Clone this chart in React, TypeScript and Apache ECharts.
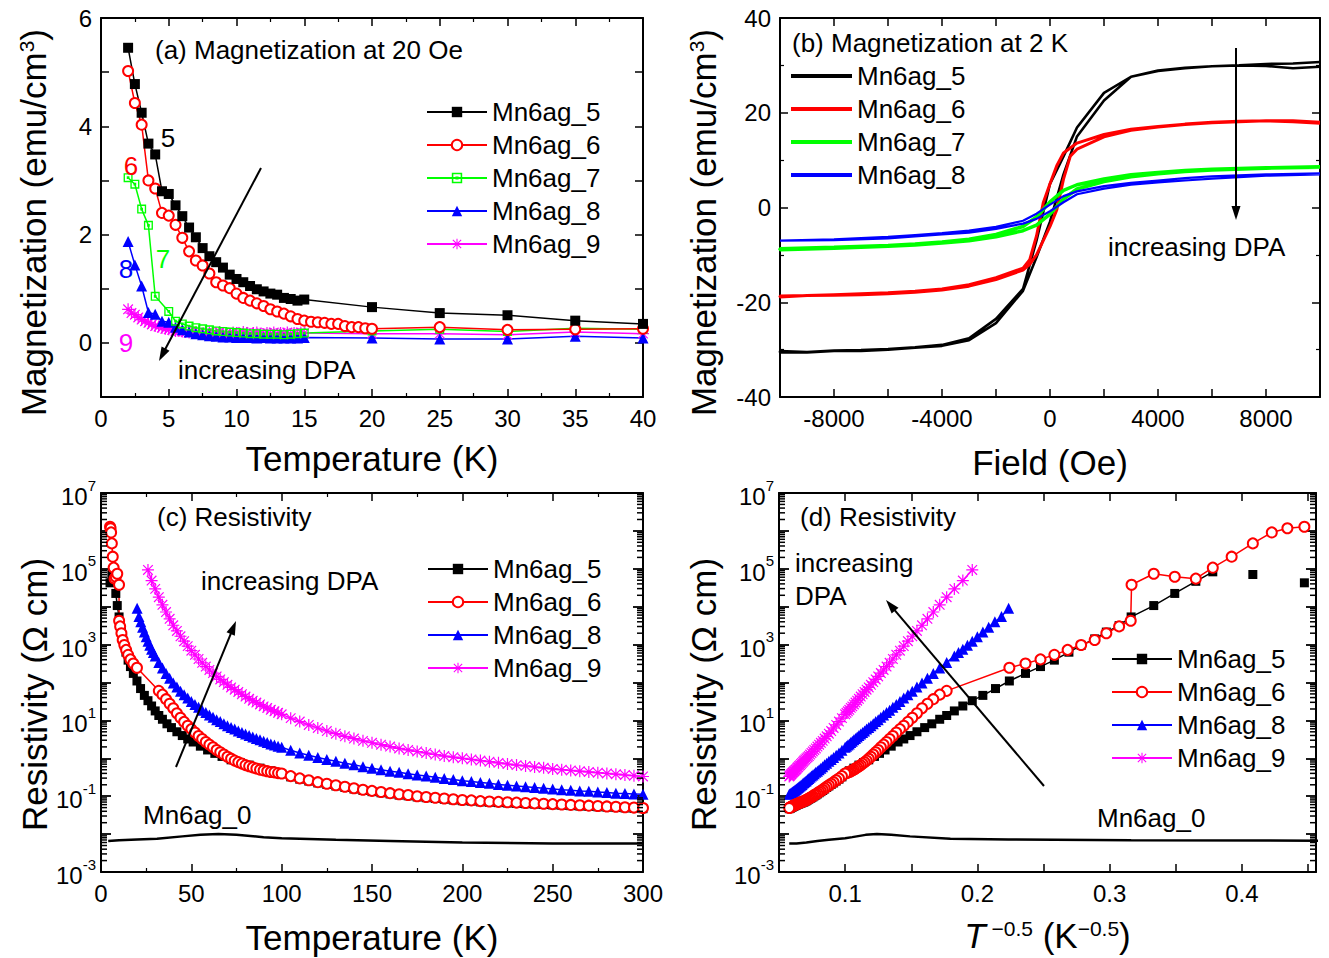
import React, { useEffect, useRef } from 'react';
import * as echarts from 'echarts';

const FONT = "'Liberation Sans', Arial, Helvetica, sans-serif";
const BLACK = '#000000';
const RED = '#ff0000';
const GREEN = '#00ff00';
const BLUE = '#0000ff';
const MAGENTA = '#ff00ff';

// ---------------- (a) Magnetization at 20 Oe vs temperature ----------------
const aT5 = [2, 2.5, 3, 3.5, 4, 4.5, 5, 5.5, 6, 6.5, 7, 7.5, 8, 8.5, 9, 9.5, 10, 10.5, 11, 11.5, 12, 12.5, 13, 13.5, 14, 14.5, 15, 20, 25, 30, 35, 40];
const aM5 = [5.45, 4.78, 4.25, 3.68, 3.48, 2.8, 2.75, 2.54, 2.34, 2.13, 1.95, 1.75, 1.6, 1.49, 1.39, 1.26, 1.18, 1.12, 1.05, 0.99, 0.95, 0.91, 0.89, 0.83, 0.81, 0.78, 0.8, 0.66, 0.55, 0.51, 0.41, 0.35];
const aT6 = [2, 2.5, 3, 3.5, 4, 4.5, 5, 5.5, 6, 6.5, 7, 7.5, 8, 8.5, 9, 9.5, 10, 10.5, 11, 11.5, 12, 12.5, 13, 13.5, 14, 14.5, 15, 15.5, 16, 16.5, 17, 17.5, 18, 18.5, 19, 19.5, 20, 25, 30, 35, 40];
const aM6 = [5.02, 4.43, 4.03, 3.0, 2.85, 2.4, 2.35, 2.18, 1.94, 1.69, 1.52, 1.43, 1.28, 1.12, 1.06, 1.01, 0.91, 0.83, 0.78, 0.73, 0.68, 0.62, 0.58, 0.54, 0.49, 0.44, 0.41, 0.39, 0.38, 0.37, 0.35, 0.35, 0.31, 0.29, 0.29, 0.27, 0.26, 0.29, 0.24, 0.25, 0.26];
const aT7 = [2, 2.5, 3, 3.5, 4, 5, 5.5, 6, 6.5, 7, 7.5, 8, 8.5, 9, 9.5, 10, 10.5, 11, 11.5, 12, 12.5, 13, 13.5, 14, 14.5, 15, 20, 25, 30, 35, 40];
const aM7 = [3.05, 2.93, 2.47, 2.17, 0.86, 0.58, 0.4, 0.35, 0.31, 0.28, 0.26, 0.24, 0.22, 0.21, 0.2, 0.19, 0.18, 0.17, 0.17, 0.16, 0.16, 0.16, 0.15, 0.16, 0.17, 0.18, 0.22, 0.25, 0.21, 0.27, 0.25];
const aT8 = [2, 2.5, 3, 3.5, 4, 4.5, 5, 5.5, 6, 6.5, 7, 7.5, 8, 8.5, 9, 9.5, 10, 10.5, 11, 11.5, 12, 12.5, 13, 13.5, 14, 14.5, 15, 20, 25, 30, 35, 40];
const aM8 = [1.87, 1.44, 1.05, 0.56, 0.53, 0.4, 0.38, 0.29, 0.24, 0.2, 0.17, 0.15, 0.13, 0.12, 0.11, 0.11, 0.1, 0.1, 0.1, 0.09, 0.1, 0.09, 0.09, 0.09, 0.09, 0.09, 0.1, 0.09, 0.07, 0.07, 0.12, 0.09];
const aT9 = [2, 2.25, 2.5, 2.75, 3, 3.25, 3.5, 3.75, 4, 4.25, 4.5, 4.75, 5, 5.25, 5.5, 5.75, 6, 6.25, 6.5, 6.75, 7, 7.25, 7.5, 7.75, 8, 8.25, 8.5, 8.75, 9, 9.25, 9.5, 9.75, 10, 10.25, 10.5, 10.75, 11, 11.25, 11.5, 11.75, 12, 12.25, 12.5, 12.75, 13, 13.25, 13.5, 13.75, 14, 14.25, 14.5, 14.75, 15, 20, 25, 30, 35, 40];
const aM9 = [0.62, 0.55, 0.52, 0.47, 0.43, 0.4, 0.37, 0.34, 0.31, 0.3, 0.28, 0.26, 0.25, 0.24, 0.22, 0.22, 0.21, 0.2, 0.19, 0.2, 0.18, 0.19, 0.17, 0.18, 0.19, 0.17, 0.18, 0.2, 0.17, 0.18, 0.16, 0.19, 0.18, 0.17, 0.2, 0.18, 0.16, 0.18, 0.19, 0.17, 0.16, 0.18, 0.17, 0.19, 0.16, 0.18, 0.17, 0.19, 0.16, 0.18, 0.17, 0.19, 0.18, 0.17, 0.17, 0.15, 0.2, 0.17];

// ---------------- (b) Magnetization at 2 K vs field (hysteresis loops) ----------------
const bH5desc = [10000, 9000, 8000, 7000, 6000, 5000, 4000, 3000, 2000, 1000, 500, 0, -500, -1000, -2000, -3000, -4000, -5000, -6000, -7000, -8000, -9000, -10000];
const bM5desc = [29.7, 29.4, 29.9, 30.0, 29.8, 29.5, 28.9, 27.6, 24.2, 16.9, 10.8, 5.0, -7.0, -17.2, -23.5, -27.6, -29.0, -29.5, -29.9, -30.1, -30.2, -30.5, -30.3];
const bH5asc = [-10000, -9000, -8000, -7000, -6000, -5000, -4000, -3000, -2000, -1000, -500, 0, 500, 1000, 2000, 3000, 4000, 5000, 6000, 7000, 8000, 9000, 10000];
const bM5asc = [-30.6, -30.6, -30.3, -30.3, -30.0, -29.6, -29.2, -28.0, -24.4, -17.6, -10.5, -3.0, 7.0, 15.0, 22.6, 27.6, 28.8, 29.4, 29.8, 30.0, 30.3, 30.4, 30.7];
const bH6desc = [10000, 9000, 8000, 7000, 6000, 5000, 4000, 3000, 2000, 1000, 500, 250, 0, -250, -500, -750, -1000, -2000, -3000, -4000, -5000, -6000, -7000, -8000, -9000, -10000];
const bM6desc = [17.8, 18.1, 18.3, 18.2, 18.0, 17.6, 17.1, 16.5, 15.4, 13.6, 11.5, 8.8, 5.0, 1.0, -6.0, -11.0, -12.8, -14.8, -16.3, -17.2, -17.7, -18.0, -18.2, -18.4, -18.6, -18.7];
const bH6asc = [-10000, -9000, -8000, -7000, -6000, -5000, -4000, -3000, -2000, -1000, -750, -500, -250, 0, 250, 500, 750, 1000, 2000, 3000, 4000, 5000, 6000, 7000, 8000, 9000, 10000];
const bM6asc = [-18.9, -18.6, -18.5, -18.4, -18.2, -17.9, -17.4, -16.6, -15.2, -13.2, -12.0, -10.0, -7.0, -4.0, -0.5, 6.0, 10.8, 12.3, 14.9, 16.3, 17.0, 17.5, 17.9, 18.1, 18.3, 18.3, 18.0];
const bHdesc = [10000, 8000, 6000, 5000, 4000, 3000, 2000, 1000, 500, 0, -500, -1000, -2000, -3000, -4000, -5000, -6000, -8000, -10000];
const bHasc = [-10000, -8000, -6000, -5000, -4000, -3000, -2000, -1000, -500, 0, 500, 1000, 2000, 3000, 4000, 5000, 6000, 8000, 10000];
const bM7desc = [8.6, 8.4, 8.1, 7.8, 7.4, 6.9, 6.0, 4.8, 3.6, 1.2, -2.0, -4.0, -5.7, -6.7, -7.3, -7.7, -8.0, -8.4, -8.7];
const bM7asc = [-8.9, -8.6, -8.2, -7.9, -7.5, -7.0, -6.2, -4.9, -3.7, -1.4, 1.8, 3.9, 5.5, 6.5, 7.1, 7.6, 7.9, 8.3, 8.5];
const bM8desc = [7.2, 7.0, 6.6, 6.2, 5.7, 5.2, 4.5, 3.4, 2.4, 0.6, -1.3, -2.8, -4.1, -4.9, -5.4, -5.8, -6.2, -6.7, -7.0];
const bM8asc = [-7.1, -6.9, -6.5, -6.1, -5.7, -5.3, -4.5, -3.4, -2.4, -0.8, 1.1, 2.8, 4.0, 4.8, 5.3, 5.7, 6.1, 6.7, 7.0];

// ---------------- (c)/(d) Resistivity: temperatures (K) and log10(resistivity / Ω cm) ----------------
const midT = [32, 34, 36, 38, 40, 42, 44, 46, 48, 50, 52, 54, 56, 58, 60, 62, 64, 66, 68, 70, 72, 74, 76, 78, 80, 82, 84, 86, 88, 90, 92, 94, 96, 98, 100];
const hiT = [105, 110, 115, 120, 125, 130, 135, 140, 145, 150, 155, 160, 165, 170, 175, 180, 185, 190, 195, 200, 205, 210, 215, 220, 225, 230, 235, 240, 245, 250, 255, 260, 265, 270, 275, 280, 285, 290, 295, 300];

const cT5 = [5.0, 5.5, 6.0, 6.5, 7.0, 7.5, 8.2, 9.0, 10.0, 10.6, 11.3, 12.0, 12.9, 13.8, 15.0, 16.3, 17.9, 19.9, 21.9, 24, 26, 28, 30, 32, 34, 36.5, 39, 42, 45, 48, 51, 55, 59, 63, 67, 72, 77, 82, 88, 94, 100, ...hiT];
const cLog5 = [4.63, null, 4.85, null, 4.92, 4.67, 4.35, 4.03, 3.73, 3.5, 3.33, 3.15, 2.98, 2.8, 2.59, 2.42, 2.24, 2.04, 1.84, 1.66, 1.52, 1.38, 1.25, 1.13, 1.03, 0.91, 0.81, 0.7, 0.6, 0.51, 0.43, 0.32, 0.22, 0.13, 0.05, -0.04, -0.11, -0.18, -0.26, -0.33, -0.41,
  -0.49, -0.55, -0.6, -0.65, -0.69, -0.73, -0.77, -0.81, -0.85, -0.88, -0.91, -0.94, -0.97, -0.99, -1.02, -1.04, -1.06, -1.08, -1.1, -1.12, -1.13, -1.15, -1.16, -1.17, -1.18, -1.19, -1.2, -1.21, -1.22, -1.23, -1.24, -1.25, -1.26, -1.27, -1.28, -1.29, -1.3, -1.31, -1.32, -1.33];

const cT6 = [5.0, 5.3, 5.6, 6.0, 6.5, 7.0, 7.5, 8.2, 9.0, 9.98, 10.02, 10.6, 11.3, 12.0, 12.9, 13.9, 15.0, 16.3, 17.9, 19.9, ...midT, ...hiT];
const cLog6 = [6.11, 6.07, 5.96, 5.67, 5.32, 5.03, 4.74, 4.79, 4.87, 4.58, 3.63, 3.48, 3.3, 3.12, 2.99, 2.86, 2.73, 2.61, 2.5, 2.39,
  1.78, 1.68, 1.56, 1.44, 1.32, 1.19, 1.07, 0.96, 0.86, 0.77, 0.68, 0.59, 0.51, 0.43, 0.36, 0.29, 0.22, 0.16, 0.1, 0.04, -0.01, -0.06, -0.1, -0.14, -0.18, -0.21, -0.24, -0.27, -0.3, -0.32, -0.34, -0.36, -0.37, -0.39, -0.4,
  -0.47, -0.53, -0.58, -0.63, -0.67, -0.71, -0.75, -0.79, -0.83, -0.86, -0.89, -0.92, -0.95, -0.97, -1.0, -1.02, -1.04, -1.06, -1.08, -1.1, -1.11, -1.13, -1.14, -1.15, -1.16, -1.17, -1.18, -1.19, -1.2, -1.21, -1.22, -1.23, -1.24, -1.25, -1.26, -1.27, -1.28, -1.29, -1.3, -1.31];

const cT8 = [20, 21, 22, 23, 24, 25, 26, 27, 28, 29, 30, ...midT, ...hiT];
const cLog8 = [3.96, 3.74, 3.6, 3.46, 3.33, 3.21, 3.09, 2.98, 2.88, 2.79, 2.7,
  2.53, 2.38, 2.24, 2.11, 1.99, 1.88, 1.77, 1.68, 1.59, 1.5, 1.42, 1.35, 1.27, 1.21, 1.14, 1.08, 1.02, 0.97, 0.91, 0.86, 0.81, 0.77, 0.72, 0.68, 0.64, 0.6, 0.56, 0.52, 0.49, 0.45, 0.42, 0.38, 0.35, 0.32, 0.29,
  0.21, 0.14, 0.08, 0.02, -0.03, -0.08, -0.13, -0.17, -0.22, -0.26, -0.3, -0.34, -0.37, -0.41, -0.44, -0.47, -0.5, -0.53, -0.56, -0.59, -0.61, -0.64, -0.66, -0.69, -0.71, -0.73, -0.75, -0.77, -0.79, -0.81, -0.83, -0.84, -0.86, -0.87, -0.89, -0.9, -0.92, -0.93, -0.94, -0.95];

const cT9 = [26, 28, 30, ...midT, ...hiT];
const cLog9 = [4.97, 4.69, 4.47, 4.25, 4.05, 3.86, 3.68, 3.51, 3.36, 3.22, 3.09, 2.96, 2.84, 2.73, 2.62, 2.52, 2.42, 2.33, 2.25, 2.16, 2.08, 2.01, 1.94, 1.87, 1.81, 1.75, 1.69, 1.63, 1.57, 1.52, 1.47, 1.42, 1.37, 1.33, 1.28, 1.24, 1.2, 1.16,
  1.06, 0.97, 0.88, 0.8, 0.72, 0.65, 0.58, 0.52, 0.46, 0.41, 0.36, 0.31, 0.26, 0.22, 0.18, 0.14, 0.1, 0.06, 0.03, 0.0, -0.03, -0.06, -0.09, -0.12, -0.15, -0.18, -0.2, -0.23, -0.25, -0.28, -0.3, -0.32, -0.34, -0.36, -0.38, -0.4, -0.42, -0.44, -0.46, -0.48];

const cT0 = [4, 10, 20, 31, 45, 55, 65, 75, 90, 100, 130, 160, 200, 250, 300];
const cLog0 = [-2.18, -2.16, -2.14, -2.12, -2.06, -2.02, -2.0, -2.02, -2.08, -2.11, -2.15, -2.18, -2.22, -2.25, -2.25];

// ---------------- tick labels ----------------
const aYLabels = [0, 2, 4, 6];
const bXLabels = [-8000, -4000, 0, 4000, 8000];
const dXLabels = ['0.1', '0.2', '0.3', '0.4'];
const logLabelExps = [-3, -1, 1, 3, 5, 7];
const logDecades = [-3, -2, -1, 0, 1, 2, 3, 4, 5, 6];
const logMinorMult = [2, 3, 4, 5, 6, 7, 8, 9];

// ---------------- symbols ----------------
const STAR = 'path://M9 0 L11 0 L11 20 L9 20 Z M0 9 L20 9 L20 11 L0 11 Z M1.3 2.7 L2.7 1.3 L18.7 17.3 L17.3 18.7 Z M17.3 1.3 L18.7 2.7 L2.7 18.7 L1.3 17.3 Z';
const DOTSQ = 'path://M0 0 L20 0 L20 20 L0 20 Z M3 3 L3 17 L17 17 L17 3 Z M7 7 L13 7 L13 13 L7 13 Z';

const xy = (xs: number[], ys: number[]) => xs.map((x, i) => [x, ys[i]]);
const logData = (ts: number[], ls: (number | null)[], inv: boolean) =>
  ts.map((t, i) => [inv ? 1 / Math.sqrt(t) : t, ls[i] == null ? '-' : ls[i]]);

function mk(name: string, gi: number, data: any[], color: string, symbol: string, size: number, lw = 1.5) {
  const empty = symbol === 'emptyCircle';
  return {
    type: 'line', name, xAxisIndex: gi * 2, yAxisIndex: gi * 2, data, color,
    symbol, symbolSize: size, showSymbol: symbol !== 'none', connectNulls: false,
    lineStyle: { color, width: lw },
    itemStyle: { color, borderColor: color, borderWidth: empty ? 1.5 : 0 },
    emphasis: { disabled: true }, silent: true, animation: false,
  };
}

// minor log ticks (2..9 within each decade) drawn on both vertical edges of panels (c) and (d)
function logMinorTicks(gi: number, xVal: number) {
  const data: number[][] = [];
  logDecades.forEach((k) => logMinorMult.forEach((m) => data.push([xVal, k + Math.log10(m)])));
  return {
    type: 'custom', xAxisIndex: gi * 2, yAxisIndex: gi * 2, data, silent: true, clip: false, z: 6, animation: false,
    renderItem: (params: any, api: any) => {
      const cs = params.coordSys;
      const y = api.coord([api.value(0), api.value(1)])[1];
      const st = { stroke: '#000', lineWidth: 1.5 };
      return {
        type: 'group',
        children: [
          { type: 'line', shape: { x1: cs.x, y1: y, x2: cs.x + 6, y2: y }, style: st },
          { type: 'line', shape: { x1: cs.x + cs.width - 6, y1: y, x2: cs.x + cs.width, y2: y }, style: st },
        ],
      };
    },
  };
}

const axisLine = { show: true, onZero: false, lineStyle: { color: '#000', width: 2 } };
const tick = { show: true, inside: true, length: 8, lineStyle: { color: '#000', width: 1.5 } };
const logTick = { show: true, inside: true, length: 10, lineStyle: { color: '#000', width: 1.8 } };
const minor = (n: number) => ({ show: true, splitNumber: n, length: 4, lineStyle: { color: '#000', width: 1.2 } });
const lbl = { color: '#000', fontSize: 24, fontFamily: FONT };
const nameStyle = (shift: number) => ({
  color: '#000', fontSize: 35, fontFamily: FONT, padding: [0, shift, 0, 0],
  rich: {
    s: { fontSize: 21, fontFamily: FONT, color: '#000', verticalAlign: 'top' },
    i: { fontSize: 35, fontFamily: FONT, color: '#000', fontStyle: 'italic' },
  },
});
const logRich = {
  b: { fontSize: 24, fontFamily: FONT, color: '#000', padding: [7, 0, 0, 0] },
  s: { fontSize: 15, fontFamily: FONT, color: '#000', verticalAlign: 'top' },
};
const logFormatter = (v: number) => {
  const e = Math.round(v);
  return logLabelExps.includes(e) && Math.abs(v - e) < 1e-6 ? `{b|10}{s|${e}}` : '';
};

function xPair(gi: number, base: any) {
  return [
    { ...base, gridIndex: gi, position: 'bottom' },
    { ...base, gridIndex: gi, position: 'top', name: '', axisLabel: { show: false } },
  ];
}
function yPair(gi: number, base: any) {
  return [
    { ...base, gridIndex: gi, position: 'left' },
    { ...base, gridIndex: gi, position: 'right', name: '', axisLabel: { show: false } },
  ];
}

const xAxes = [
  ...xPair(0, {
    type: 'value', min: 0, max: 40, interval: 5, axisLine, axisTick: tick, minorTick: minor(2), splitLine: { show: false },
    axisLabel: { ...lbl, margin: 9 }, name: 'Temperature (K)', nameLocation: 'middle', nameGap: 44, nameTextStyle: nameStyle(0),
  }),
  ...xPair(1, {
    type: 'value', min: -10000, max: 10000, interval: 2000, axisLine, axisTick: tick, splitLine: { show: false },
    axisLabel: { ...lbl, margin: 9, formatter: (v: number) => (bXLabels.includes(v) ? String(v) : '') },
    name: 'Field (Oe)', nameLocation: 'middle', nameGap: 48, nameTextStyle: nameStyle(0),
  }),
  ...xPair(2, {
    type: 'value', min: 0, max: 300, interval: 50, axisLine, axisTick: tick, minorTick: minor(2), splitLine: { show: false },
    axisLabel: { ...lbl, margin: 9 }, name: 'Temperature (K)', nameLocation: 'middle', nameGap: 48, nameTextStyle: nameStyle(0),
  }),
  ...xPair(3, {
    type: 'value', min: 0.05, max: 0.456, interval: 0.05, axisLine, axisTick: tick, splitLine: { show: false },
    axisLabel: {
      ...lbl, margin: 9, showMaxLabel: false,
      formatter: (v: number) => { const s = (Math.round(v * 100) / 100).toFixed(1); return dXLabels.includes(s) && Math.abs(v - parseFloat(s)) < 1e-6 ? s : ''; },
    },
    name: '{i|T}{s| \u22120.5} (K{s|\u22120.5})', nameLocation: 'middle', nameGap: 46, nameTextStyle: nameStyle(0),
  }),
];

const yAxes = [
  ...yPair(0, {
    type: 'value', min: -1, max: 6, interval: 1, axisLine, axisTick: tick, splitLine: { show: false },
    axisLabel: { ...lbl, margin: 9, formatter: (v: number) => (aYLabels.includes(v) ? String(v) : '') },
    name: 'Magnetization (emu/cm{s|3})', nameLocation: 'middle', nameGap: 50, nameTextStyle: nameStyle(30),
  }),
  ...yPair(1, {
    type: 'value', min: -40, max: 40, interval: 20, axisLine, axisTick: tick, minorTick: minor(2), splitLine: { show: false },
    axisLabel: { ...lbl, margin: 9 },
    name: 'Magnetization (emu/cm{s|3})', nameLocation: 'middle', nameGap: 59, nameTextStyle: nameStyle(30),
  }),
  ...yPair(2, {
    type: 'value', min: -3, max: 7, interval: 1, axisLine, axisTick: logTick, splitLine: { show: false },
    axisLabel: { ...lbl, margin: 5, formatter: logFormatter, rich: logRich },
    name: 'Resistivity (\u03A9 cm)', nameLocation: 'middle', nameGap: 49, nameTextStyle: nameStyle(24),
  }),
  ...yPair(3, {
    type: 'value', min: -3, max: 7, interval: 1, axisLine, axisTick: logTick, splitLine: { show: false },
    axisLabel: { ...lbl, margin: 5, formatter: logFormatter, rich: logRich },
    name: 'Resistivity (\u03A9 cm)', nameLocation: 'middle', nameGap: 58, nameTextStyle: nameStyle(24),
  }),
];

const series: any[] = [
  // (a)
  mk('a:Mn6ag_9', 0, xy(aT9, aM9), MAGENTA, STAR, 12),
  mk('a:Mn6ag_8', 0, xy(aT8, aM8), BLUE, 'triangle', 11),
  mk('a:Mn6ag_7', 0, xy(aT7, aM7), GREEN, DOTSQ, 9),
  mk('a:Mn6ag_6', 0, xy(aT6, aM6), RED, 'emptyCircle', 10),
  mk('a:Mn6ag_5', 0, xy(aT5, aM5), BLACK, 'rect', 10),
  // (b)
  mk('b:Mn6ag_5', 1, [...xy(bH5desc, bM5desc), ...xy(bH5asc, bM5asc)], BLACK, 'none', 0, 2.6),
  mk('b:Mn6ag_6', 1, [...xy(bH6desc, bM6desc), ...xy(bH6asc, bM6asc)], RED, 'none', 0, 3),
  mk('b:Mn6ag_7', 1, [...xy(bHdesc, bM7desc), ...xy(bHasc, bM7asc)], GREEN, 'none', 0, 3.5),
  mk('b:Mn6ag_8', 1, [...xy(bHdesc, bM8desc), ...xy(bHasc, bM8asc)], BLUE, 'none', 0, 2.2),
  // (c)
  logMinorTicks(2, 0),
  mk('c:Mn6ag_0', 2, logData(cT0, cLog0, false), BLACK, 'none', 0, 2.5),
  mk('c:Mn6ag_9', 2, logData(cT9, cLog9, false), MAGENTA, STAR, 12),
  mk('c:Mn6ag_8', 2, logData(cT8, cLog8, false), BLUE, 'triangle', 11),
  mk('c:Mn6ag_5', 2, logData(cT5, cLog5, false), BLACK, 'rect', 9),
  mk('c:Mn6ag_6', 2, logData(cT6, cLog6, false), RED, 'emptyCircle', 10),
  // (d)
  logMinorTicks(3, 0.05),
  mk('d:Mn6ag_0', 3, logData(cT0, cLog0, true), BLACK, 'none', 0, 2.5),
  mk('d:Mn6ag_9', 3, logData(cT9, cLog9, true), MAGENTA, STAR, 12),
  mk('d:Mn6ag_8', 3, logData(cT8, cLog8, true), BLUE, 'triangle', 11),
  mk('d:Mn6ag_5', 3, logData(cT5, cLog5, true), BLACK, 'rect', 9),
  mk('d:Mn6ag_6', 3, logData(cT6, cLog6, true), RED, 'emptyCircle', 10),
];

const legendText = { fontSize: 26, fontFamily: FONT, color: '#000' };
const legendBase = {
  orient: 'vertical', itemWidth: 60, itemHeight: 13, itemGap: 7, selectedMode: false,
  textStyle: legendText, formatter: (n: string) => n.slice(2), padding: 0,
};
const legends = [
  { ...legendBase, left: 426, top: 99, data: ['a:Mn6ag_5', 'a:Mn6ag_6', 'a:Mn6ag_7', 'a:Mn6ag_8', 'a:Mn6ag_9'] },
  { ...legendBase, left: 791, top: 63, itemWidth: 61, itemHeight: 4, data: ['b:Mn6ag_5', 'b:Mn6ag_6', 'b:Mn6ag_7', 'b:Mn6ag_8'].map((name) => ({ name, icon: 'rect' })) },
  { ...legendBase, left: 427, top: 556, data: ['c:Mn6ag_5', 'c:Mn6ag_6', 'c:Mn6ag_8', 'c:Mn6ag_9'] },
  { ...legendBase, left: 1111, top: 646, data: ['d:Mn6ag_5', 'd:Mn6ag_6', 'd:Mn6ag_8', 'd:Mn6ag_9'] },
];

const txt = (text: string, x: number, y: number, fill = '#000', fontSize = 26, align = 'left') => ({
  type: 'text', z: 100, x, y,
  style: { text, fill, fontSize, fontFamily: FONT, align, verticalAlign: 'middle' },
});
function arrow(x1: number, y1: number, x2: number, y2: number) {
  const dx = x2 - x1, dy = y2 - y1, L = Math.hypot(dx, dy);
  const ux = dx / L, uy = dy / L, hl = 14, hw = 4.5;
  const bx = x2 - ux * hl, by = y2 - uy * hl;
  return [
    { type: 'line', z: 100, shape: { x1, y1, x2: x2 - ux * hl * 0.6, y2: y2 - uy * hl * 0.6 }, style: { stroke: '#000', lineWidth: 2 } },
    { type: 'polygon', z: 100, shape: { points: [[x2, y2], [bx - uy * hw, by + ux * hw], [bx + uy * hw, by - ux * hw]] }, style: { fill: '#000' } },
  ];
}

const graphics = [
  txt('(a) Magnetization at 20 Oe', 155, 50),
  txt('5', 168, 138, BLACK, 26, 'center'),
  txt('6', 131, 166, RED, 26, 'center'),
  txt('7', 163, 259, GREEN, 26, 'center'),
  txt('8', 126, 269, BLUE, 26, 'center'),
  txt('9', 126, 343, MAGENTA, 26, 'center'),
  txt('increasing DPA', 178, 370),
  ...arrow(261, 168, 159, 361),
  txt('(b) Magnetization at 2 K', 792, 43),
  txt('increasing DPA', 1108, 247),
  ...arrow(1236, 48, 1236, 220),
  txt('(c) Resistivity', 157, 517),
  txt('increasing DPA', 201, 581),
  txt('Mn6ag_0', 143, 815),
  ...arrow(176, 767, 236, 621),
  txt('(d) Resistivity', 800, 517),
  txt('increasing', 795, 563),
  txt('DPA', 795, 596),
  txt('Mn6ag_0', 1097, 818),
  ...arrow(1044, 786, 886, 600),
];

const option: any = {
  animation: false,
  backgroundColor: '#ffffff',
  textStyle: { fontFamily: FONT, color: '#000' },
  grid: [
    { left: 101, top: 18, width: 542, height: 379 },
    { left: 780, top: 18, width: 540, height: 379 },
    { left: 101, top: 493, width: 542, height: 379 },
    { left: 779, top: 493, width: 537, height: 379 },
  ],
  xAxis: xAxes,
  yAxis: yAxes,
  legend: legends,
  series,
  graphic: graphics,
};

export default function App() {
  const ref = useRef<HTMLDivElement>(null);
  useEffect(() => {
    if (!ref.current) return;
    const chart = echarts.init(ref.current, null, { renderer: 'svg' });
    chart.setOption(option);
    return () => chart.dispose();
  }, []);
  return <div ref={ref} style={{ position: 'absolute', left: 0, top: 0, width: 1329, height: 958, background: '#fff' }} />;
}
